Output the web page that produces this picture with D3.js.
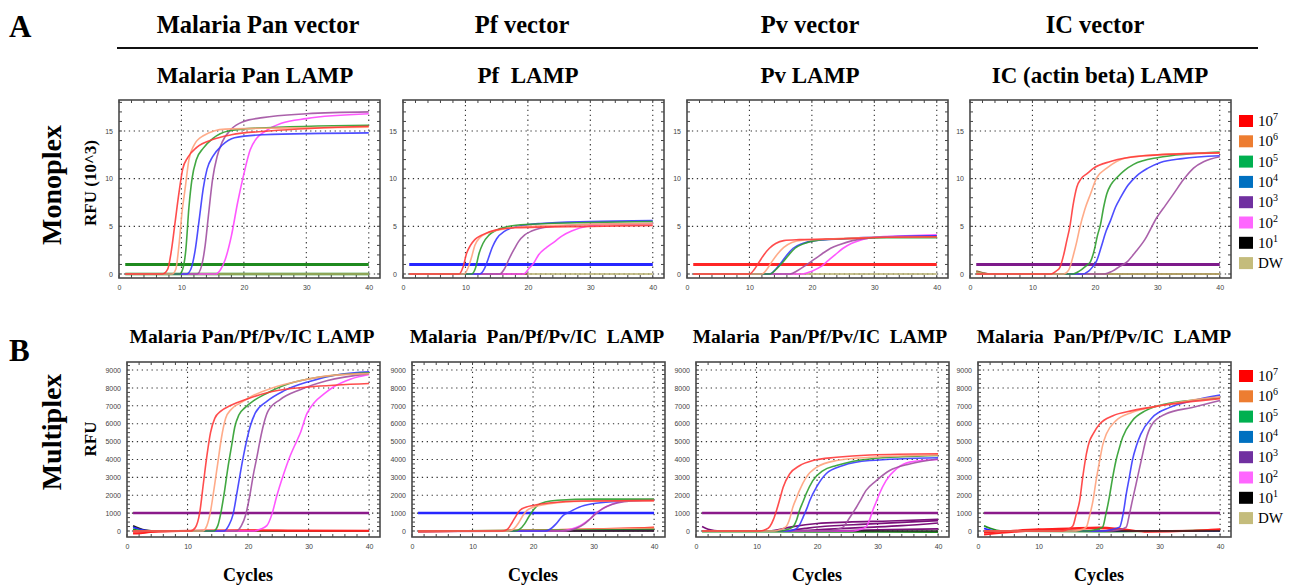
<!DOCTYPE html>
<html>
<head>
<meta charset="utf-8">
<title>Monoplex / Multiplex LAMP amplification curves</title>
<script src="https://cdn.jsdelivr.net/npm/d3@7"></script>
<style>
  body { margin: 0; background: #fff; }
  svg text { font-family: "Liberation Serif", "Times New Roman", serif; }
  .tk text { font-family: "Liberation Sans", Arial, sans-serif; font-size: 7px; fill: #444; }
</style>
</head>
<body>
<script>

// legend / concentrations
var concLabels = ["10", "10", "10", "10", "10", "10", "10", "DW"];
var concExp = ["7", "6", "5", "4", "3", "2", "1", ""];

var xTicks = [0, 10, 20, 30, 40];
var monoYTicks = [0, 5, 10, 15];
var multiYTicks = [0, 1000, 2000, 3000, 4000, 5000, 6000, 7000, 8000, 9000];

var vectorTitles = ["Malaria Pan vector", "Pf vector", "Pv vector", "IC vector"];
var monoTitles = ["Malaria Pan LAMP", "Pf  LAMP", "Pv LAMP", "IC (actin beta) LAMP"];
var multiTitles = ["Malaria Pan/Pf/Pv/IC LAMP", "Malaria  Pan/Pf/Pv/IC  LAMP", "Malaria  Pan/Pf/Pv/IC  LAMP", "Malaria  Pan/Pf/Pv/IC  LAMP"];

// threshold levels (row A in 10^3 RFU, row B in RFU)
var monoThreshold = 1;
var multiThreshold = 1000;

// ---- row A : monoplex, RFU (10^3), [cycle, value] ; order 10^7,10^6,10^5,10^4,10^3,10^2
var monoPan = [
  [[1,0],[7,0],[7.8,0.5],[8.4,2.5],[9,5.5],[9.6,8.5],[10.2,11],[11,12.2],[12.5,13.3],[15,14.1],[18,14.6],[24,15],[40,15.5]],
  [[1,0],[8.5,0],[9.1,0.5],[9.6,3],[10.1,6.5],[10.6,9],[11.2,12],[12,13.5],[13.5,14.5],[17,15.2],[25,15.3],[40,15.4]],
  [[1,0],[9.7,0],[10.2,0.5],[10.7,2.5],[11.2,7],[11.7,10],[12.4,12],[13.5,13.2],[15,14.2],[17.5,15],[22,15.3],[40,15.6]],
  [[1,0],[10.8,0],[11.5,0.5],[12.2,2.5],[12.9,6],[13.5,9],[14.1,11],[15,12.3],[16.5,13.5],[18.5,14.3],[23,14.6],[40,14.8]],
  [[1,0],[12.5,0],[13.2,0.8],[13.8,3],[14.3,6],[15,10],[15.7,12.3],[16.5,13.8],[18,15.2],[20,16],[23,16.4],[30,16.8],[40,17]],
  [[1,0],[15.5,0],[16.2,0.4],[17,1.5],[18,4],[19,7.5],[20,10.5],[21,13],[22,14.2],[23.5,15],[26,15.8],[30,16.3],[40,16.8]]
];
var monoPf = [
  [[1,0],[9,0],[9.6,0.7],[10.2,2.2],[10.8,3],[11.5,3.6],[12.7,4.1],[14.8,4.6],[18,4.85],[30,5],[40,5.1]],
  [[1,0],[9.8,0],[10.4,0.6],[11,1.8],[11.5,3],[12.3,3.8],[13.5,4.3],[16,4.7],[20,5],[30,5.2],[40,5.3]],
  [[1,0],[11,0],[11.6,0.6],[12.2,2.2],[12.8,3.2],[13.8,4.1],[15,4.6],[17,5],[20,5.2],[30,5.4],[40,5.5]],
  [[1,0],[12.3,0],[13,0.5],[13.6,1.5],[14.3,2.8],[15,3.7],[16.3,4.5],[18.5,5],[22,5.3],[30,5.5],[40,5.6]],
  [[1,0],[15.5,0],[16.3,0.6],[17,1.6],[17.8,2.6],[18.5,3.4],[19.5,4.1],[20.6,4.5],[23.5,4.95],[30,5.2],[40,5.3]],
  [[1,0],[19.3,0],[20.2,0.6],[21,1.2],[21.7,2],[23,2.8],[24.3,3.4],[25.5,4],[27,4.5],[29.5,5],[33,5.2],[40,5.3]]
];
var monoPv = [
  [[1,0],[10,0],[10.8,0.5],[11.5,1.2],[12.3,2],[13.2,2.7],[14.2,3.2],[15.5,3.5],[18,3.6],[25,3.7],[32,3.85],[40,3.9]],
  [[1,0],[12,0],[12.8,0.5],[13.6,1.3],[14.5,2.1],[15.5,2.8],[16.8,3.3],[18.5,3.55],[22,3.65],[30,3.85],[40,3.9]],
  [[1,0],[13.3,0],[14.3,0.5],[15.3,1.2],[16.3,2],[17.3,2.7],[18.8,3.2],[21,3.55],[25,3.7],[32,3.8],[40,3.8]],
  [[1,0],[13.2,0],[14.2,0.5],[15.1,1.2],[16,2],[17,2.7],[18.5,3.2],[20.5,3.5],[25,3.7],[32,3.9],[40,4]],
  [[1,0],[16.5,0],[17.8,0.4],[19,0.9],[20.3,1.5],[21.6,2.1],[23,2.7],[24.5,3.1],[26.5,3.5],[29,3.75],[33,3.9],[40,4]],
  [[1,0],[18.5,0],[20,0.3],[21.5,0.8],[22.6,1.4],[23.7,2],[25,2.7],[26.3,3.2],[28,3.6],[31,3.9],[35,4],[40,4.1]]
];
var monoIC = [
  [[1,0],[13,0],[13.8,0.3],[14.4,0.7],[15,2],[15.5,3.5],[16,5],[16.5,7.2],[17.1,9.1],[17.8,10],[18.7,10.5],[19.8,11.1],[22.5,11.8],[27.8,12.4],[40,12.7]],
  [[1,0],[15,0],[15.8,0.4],[16.6,2.1],[17.1,3.4],[17.6,4.9],[18.4,6.8],[19.3,8.4],[20.3,10.1],[21.9,11.1],[25.1,12.2],[30,12.5],[40,12.7]],
  [[1,0],[16.5,0],[17.5,0.3],[18.5,0.8],[19.3,1.3],[19.9,2.5],[20.4,4],[20.9,5.2],[21.4,7],[21.9,8.4],[22.6,9.4],[23.5,10.1],[24.8,10.9],[26.2,11.5],[30,12.2],[40,12.8]],
  [[1,0],[18,0],[19,0.3],[19.7,0.8],[20.3,1.4],[21,2.8],[21.8,4.5],[22.5,5.6],[23.3,7],[24.1,8],[25.3,9.3],[26.7,10.3],[28.5,11.1],[30.5,11.7],[34,12.1],[40,12.4]],
  [[1,0],[21.5,0],[22.8,0.3],[24,0.8],[25.2,1.3],[26.5,2.3],[28,3.6],[29.9,5.9],[31.3,7.2],[32.6,8.4],[34.2,9.9],[35.8,11.1],[37.5,11.8],[40,12.3]],
  null
];

// ---- row B : multiplex, RFU
var multiPan = [
  [[1,0],[10.5,0],[11.3,200],[12,1000],[12.6,2600],[13.2,4200],[13.8,5500],[14.5,6300],[15.5,6700],[17,7000],[20,7400],[24,7800],[30,8050],[40,8250]],
  [[1,0],[12.5,0],[13.2,300],[13.8,1100],[14.4,2400],[15,3800],[15.6,5200],[16.3,6300],[17.2,6800],[18.7,7150],[21,7600],[24,8000],[28.6,8400],[34,8700],[40,8800]],
  [[1,0],[14.3,0],[15,300],[15.5,1000],[16.1,2200],[16.7,3600],[17.3,4800],[17.8,5800],[18.5,6500],[19.5,6900],[21,7300],[23.1,7700],[26,8150],[30,8500],[40,8850]],
  [[1,0],[16,0],[16.8,300],[17.5,900],[18.2,2200],[18.7,3200],[19.3,4300],[19.8,5100],[20.4,5900],[21.2,6600],[23.1,7250],[26,7850],[30,8350],[35,8750],[40,8900]],
  [[1,0],[18,0],[18.9,300],[19.6,900],[20.3,2000],[20.9,3200],[21.5,4200],[22,5100],[22.6,6000],[23.3,6700],[25.3,7350],[28.6,7900],[33,8400],[40,8800]],
  [[1,0],[21,0],[22,100],[23.1,300],[24,1000],[24.7,1900],[25.8,3100],[26.9,4150],[28,5000],[28.6,5450],[29.7,6550],[31,7200],[32.5,7650],[34.1,8050],[37,8500],[40,8750]]
];
var multiPf = [
  [[1,0],[15,0],[15.8,100],[16.5,450],[17.2,850],[17.8,1150],[18.9,1340],[20,1430],[23,1580],[28,1680],[40,1700]],
  [[1,0],[16,0],[16.9,150],[17.6,450],[18.3,850],[19,1150],[20,1330],[21.5,1450],[24,1580],[30,1680],[40,1700]],
  [[1,0],[17,0],[17.8,100],[18.6,400],[19.3,800],[20,1150],[20.8,1450],[22,1620],[24,1720],[30,1780],[40,1780]],
  [[1,0],[22,0],[22.8,100],[23.8,400],[24.9,850],[26,1060],[27.6,1330],[29.8,1520],[33,1640],[40,1720]],
  [[1,0],[25,0],[27,130],[28.5,400],[29.5,700],[30.5,1000],[31.5,1250],[33,1480],[35,1640],[38,1720],[40,1740]],
  [[1,0],[24.5,0],[26.5,120],[27.8,300],[28.7,500],[29.5,700],[30.3,970],[31.2,1180],[32,1340],[34.2,1620],[37.4,1740],[40,1760]]
];
var multiPv = [
  [[1,0],[10.5,0],[11.5,80],[12.2,250],[12.8,650],[13.3,1150],[13.9,1850],[14.4,2450],[15.5,3200],[17.1,3650],[19.3,3940],[23.2,4120],[28.7,4250],[40,4320]],
  [[1,0],[13,0],[14,80],[14.9,250],[15.5,700],[16,1330],[16.6,1850],[17.1,2270],[18.2,3000],[19.9,3560],[23.2,3940],[28.7,4120],[40,4250]],
  [[1,0],[14,0],[15,80],[16,230],[16.6,600],[17.1,1150],[17.7,1650],[18.2,2080],[19.3,2820],[21,3380],[23.2,3660],[28.7,4030],[40,4220]],
  [[1,0],[15,0],[16,50],[16.6,130],[17.2,400],[17.7,780],[18.3,1250],[18.8,1710],[19.9,2450],[21.5,3200],[24.3,3660],[28.7,3940],[40,4100]],
  [[1,0],[22,0],[23.3,100],[24.3,220],[25.3,700],[26.5,1330],[27.3,1800],[28.1,2270],[29.8,2820],[32,3380],[35.3,3750],[40,4030]],
  [[1,0],[26,0],[27,80],[28.1,230],[28.7,650],[29.2,1150],[29.8,1650],[30.3,2080],[31.4,2820],[33.1,3470],[35.3,3850],[40,4000]]
];
var multiIC = [
  [[1,0],[13.5,0],[14.5,50],[15.2,150],[15.7,300],[16.2,900],[16.8,1700],[17.3,3000],[17.9,4300],[18.4,5000],[19,5420],[20.1,5980],[22.3,6450],[25.5,6730],[30,7000],[40,7400]],
  [[1,0],[15.5,0],[16.8,50],[17.9,220],[18.4,800],[19,1700],[19.5,2800],[20.1,3940],[20.6,4800],[21.2,5420],[22.8,6170],[25.5,6640],[30,7000],[35,7300],[40,7500]],
  [[1,0],[18,0],[19.5,80],[20.6,220],[21.1,900],[21.7,1900],[22.2,2900],[22.8,3940],[23.4,4700],[23.9,5240],[25.5,6170],[27.7,6730],[31,7100],[35,7300],[40,7450]],
  [[1,0],[20.5,0],[22,80],[23.4,220],[24,1000],[24.5,2080],[25,3000],[25.5,3940],[26.2,4800],[26.9,5420],[28.8,6350],[31.6,6900],[35.4,7280],[40,7600]],
  [[1,0],[22,0],[23.5,80],[24.5,220],[25,900],[25.5,1700],[26.1,2600],[26.6,3380],[27.2,4300],[27.7,5050],[28.8,5980],[31,6540],[35.4,6910],[40,7300]],
  null
];

// negative / baseline traces : [colour key, points]
var monoPanBase = [["dgreen", [[1,0],[40,0]]], ["dw", [[1,0],[40,0]]]];
var monoPfBase = [["brown", [[1,0],[20,0]]], ["dw", [[20,0],[40,0]]]];
var monoPvBase = [["dw", [[1,0],[40,0]]], ["brown", [[1,0],[12,0]]]];
var monoICBase = [["brown", [[1,0.3],[2,0.12],[3,0],[40,0]]], ["dw", [[1,0.2],[3,0],[40,0]]]];
var multiPanBase = [
  ["black", [[1,300],[2,150],[3,50],[5,0],[40,0]]],
  ["blue", [[1,200],[2,100],[4,0],[40,0]]],
  ["green", [[1,100],[3,0],[40,0]]],
  ["red", [[1,-150],[3,-100],[6,0],[20,50],[30,0],[40,0]]],
  ["red", [[1,-50],[4,-50],[10,0],[25,30],[40,20]]]
];
var multiPfBase = [
  ["red", [[1,-50],[10,0],[20,30],[30,100],[40,200]]],
  ["orange", [[1,-30],[20,50],[40,150]]],
  ["green", [[1,0],[30,50],[40,80]]],
  ["purple", [[1,-20],[40,20]]],
  ["black", [[1,0],[40,0]]]
];
var multiPvBase = [
  ["dpurple", [[1,250],[2,100],[4,0],[12,0],[16,250],[20,420],[25,500],[32,560],[40,650]]],
  ["dpurple", [[1,0],[14,0],[18,150],[22,280],[28,380],[34,480],[40,580]]],
  ["dpurple", [[1,0],[16,0],[22,100],[28,200],[34,300],[40,450]]],
  ["dpurple", [[1,0],[20,0],[28,50],[40,120]]],
  ["green", [[1,-30],[20,-50],[40,-60]]],
  ["black", [[1,0],[40,0]]]
];
var multiICBase = [
  ["green", [[1,300],[2,150],[4,0],[20,-30],[40,50]]],
  ["blue", [[1,150],[3,0],[40,0]]],
  ["red", [[1,-100],[5,0],[10,100],[15,150],[20,200],[24,100],[28,-50],[35,0],[40,100]]],
  ["red", [[1,-200],[6,-50],[14,100],[20,150],[26,0],[40,50]]],
  ["black", [[1,0],[40,0]]]
];

// ---------------------------------------------------------------------------
// styles

var legendColors = ["#ff0000", "#ed7d31", "#00b050", "#0070c0", "#7030a0", "#ff66ff", "#000000", "#c4bc7c"];
var lineColors = ["#ff3a3a", "#ffa27c", "#2e9e2e", "#3a3aff", "#a150a1", "#ff45ff"];
var baseColors = {
  dgreen: "#1f8a1f", dw: "#b5ad6a", brown: "#8a4a2a", black: "#222", blue: "#2a2aff",
  green: "#1f8f1f", red: "#ff2020", orange: "#ff9a70", purple: "#902090", dpurple: "#7a107a"
};
var monoThrColors = ["#1f8a1f", "#2626ff", "#ff2626", "#7d1a8a"];
var multiThrColors = ["#8a1a8a", "#2626ff", "#8a1a8a", "#8a1a8a"];

var w = 1290;
var h = 588;

var svg = d3.select("body")
  .append("svg")
  .attr("width", w)
  .attr("height", h);

var rows = [
  { top: 100, ph: 178, lefts: [119, 403, 687, 970], pw: 261, yDom: [-0.42, 18.25],
    yTicks: monoYTicks, minor: 1, curves: [monoPan, monoPf, monoPv, monoIC],
    bases: [monoPanBase, monoPfBase, monoPvBase, monoICBase],
    thr: monoThreshold, thrColors: monoThrColors, thrWidth: 3 },
  { top: 362, ph: 175, lefts: [127, 412, 696, 978], pw: 253, yDom: [-335, 9450],
    yTicks: multiYTicks, minor: 250, curves: [multiPan, multiPf, multiPv, multiIC],
    bases: [multiPanBase, multiPfBase, multiPvBase, multiICBase],
    thr: multiThreshold, thrColors: multiThrColors, thrWidth: 2.5 }
];

rows.forEach(function(row) {
  row.lefts.forEach(function(left, pi) {
    var g = svg.append("g").attr("transform", "translate(" + left + "," + row.top + ")");
    var x = d3.scaleLinear().domain([0, 41.8]).range([0, row.pw]);
    var y = d3.scaleLinear().domain(row.yDom).range([row.ph, 0]);

    // dotted grid
    g.selectAll(".gx").data(xTicks.slice(1)).enter().append("line")
      .attr("x1", function(d) { return x(d); }).attr("x2", function(d) { return x(d); })
      .attr("y1", 0).attr("y2", row.ph)
      .attr("stroke", "#333").attr("stroke-width", 1.1).attr("stroke-dasharray", "1.3,3.6");
    g.selectAll(".gy").data(row.yTicks).enter().append("line")
      .attr("y1", function(d) { return y(d); }).attr("y2", function(d) { return y(d); })
      .attr("x1", 0).attr("x2", row.pw)
      .attr("stroke", "#333").attr("stroke-width", 1.1).attr("stroke-dasharray", "1.3,3.6");

    // minor ticks on the frame
    var xm = d3.range(0, 42, 2);
    var ym = d3.range(0, row.yDom[1], row.minor);
    [0, row.ph].forEach(function(yy, i) {
      g.selectAll(null).data(xm).enter().append("line")
        .attr("x1", function(d) { return x(d); }).attr("x2", function(d) { return x(d); })
        .attr("y1", yy).attr("y2", i ? yy - 3 : yy + 3)
        .attr("stroke", "#444").attr("stroke-width", 1);
    });
    [0, row.pw].forEach(function(xx, i) {
      g.selectAll(null).data(ym).enter().append("line")
        .attr("y1", function(d) { return y(d); }).attr("y2", function(d) { return y(d); })
        .attr("x1", xx).attr("x2", i ? xx - 3 : xx + 3)
        .attr("stroke", "#444").attr("stroke-width", 1);
    });

    var line = d3.line()
      .x(function(d) { return x(d[0]); })
      .y(function(d) { return y(d[1]); })
      .curve(d3.curveMonotoneX);

    // baselines
    row.bases[pi].forEach(function(b) {
      g.append("path").attr("d", line(b[1])).attr("fill", "none")
        .attr("stroke", baseColors[b[0]])
        .attr("stroke-width", b[0] === "dgreen" ? 2.5 : 1.7);
    });

    // threshold
    g.append("line")
      .attr("x1", x(1)).attr("x2", x(40))
      .attr("y1", y(row.thr)).attr("y2", y(row.thr))
      .attr("stroke", row.thrColors[pi]).attr("stroke-width", row.thrWidth);

    // amplification curves, highest dilution drawn first
    row.curves[pi].slice().reverse().forEach(function(pts, ri) {
      var k = row.curves[pi].length - 1 - ri;
      if (!pts) return;
      g.append("path").attr("d", line(pts)).attr("fill", "none")
        .attr("stroke", lineColors[k]).attr("stroke-width", 1.6)
        .attr("stroke-opacity", 0.9);
    });

    // frame
    g.append("rect").attr("width", row.pw).attr("height", row.ph)
      .attr("fill", "none").attr("stroke", "#4a4a4a").attr("stroke-width", 1.6);

    // axes labels
    g.append("g").attr("class", "tk")
      .call(d3.axisLeft(y).tickValues(row.yTicks).tickSize(0).tickPadding(6).tickFormat(d3.format("d")))
      .call(function(s) { s.select(".domain").remove(); });
    g.append("g").attr("class", "tk")
      .attr("transform", "translate(0," + row.ph + ")")
      .call(d3.axisBottom(x).tickValues(xTicks).tickSize(0).tickPadding(7))
      .call(function(s) { s.select(".domain").remove(); });
  });
});

// headers
svg.append("text").attr("x", 9).attr("y", 37).text("A")
  .attr("font-size", 31).attr("font-weight", "bold");
svg.append("text").attr("x", 9).attr("y", 361).text("B")
  .attr("font-size", 31).attr("font-weight", "bold");

var vecX = [258, 522, 810, 1095];
svg.selectAll(".vt").data(vectorTitles).enter().append("text")
  .attr("x", function(d, i) { return vecX[i]; }).attr("y", 33)
  .attr("text-anchor", "middle").attr("font-size", 24.5).attr("font-weight", "bold")
  .text(function(d) { return d; });
svg.append("line").attr("x1", 117).attr("x2", 1258).attr("y1", 48).attr("y2", 48)
  .attr("stroke", "#111").attr("stroke-width", 2);

var subX = [255, 528, 810, 1100];
svg.selectAll(".st").data(monoTitles).enter().append("text")
  .attr("x", function(d, i) { return subX[i]; }).attr("y", 83)
  .attr("text-anchor", "middle").attr("font-size", 23).attr("font-weight", "bold")
  .style("white-space", "pre")
  .text(function(d) { return d; });

var multiX = [252, 537, 820, 1104];
svg.selectAll(".mt").data(multiTitles).enter().append("text")
  .attr("x", function(d, i) { return multiX[i]; }).attr("y", 343)
  .attr("text-anchor", "middle").attr("font-size", 19.5).attr("font-weight", "bold")
  .style("white-space", "pre")
  .text(function(d) { return d; });

// side labels
function vtext(txt, cx, cy, size) {
  svg.append("text")
    .attr("transform", "translate(" + cx + "," + cy + ") rotate(-90)")
    .attr("text-anchor", "middle").attr("font-size", size).attr("font-weight", "bold")
    .text(txt);
}
vtext("Monoplex", 61, 185, 28);
vtext("RFU (10^3)", 96, 183, 17);
vtext("Multiplex", 61, 432, 28);
vtext("RFU", 96, 439, 17);

[127, 412, 696, 978].forEach(function(l) {
  svg.append("text").attr("x", l + 121).attr("y", 581)
    .attr("text-anchor", "middle").attr("font-size", 18).attr("font-weight", "bold")
    .text("Cycles");
});

// legends
[121, 376].forEach(function(y0) {
  var lg = svg.append("g").attr("transform", "translate(1239," + y0 + ")");
  var items = lg.selectAll("g").data(concLabels).enter().append("g")
    .attr("transform", function(d, i) { return "translate(0," + (i * 20.3) + ")"; });
  items.append("rect").attr("x", 0).attr("y", -6).attr("width", 14).attr("height", 12)
    .attr("fill", function(d, i) { return legendColors[i]; });
  var t = items.append("text").attr("x", 19).attr("y", 5).attr("font-size", 15);
  t.append("tspan").text(function(d) { return d; });
  t.append("tspan").attr("dy", -6).attr("font-size", 10)
    .text(function(d, i) { return concExp[i]; });
});

</script>
</body>
</html>
